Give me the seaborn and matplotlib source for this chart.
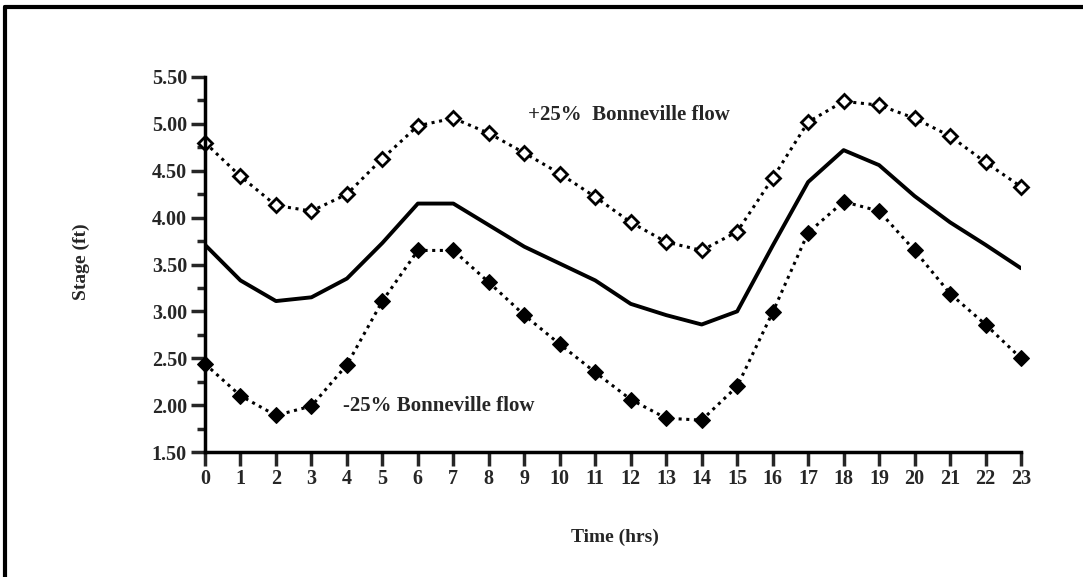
import numpy as np
import pandas as pd
import matplotlib
matplotlib.use("Agg")
import matplotlib.pyplot as plt
import seaborn as sns
from matplotlib.ticker import MultipleLocator, FormatStrFormatter
from matplotlib.lines import Line2D

# hourly stage values
hours = list(range(24))
stage_plus25 = [4.80, 4.44, 4.13, 4.07, 4.25, 4.63, 4.98, 5.06, 4.90, 4.69, 4.47, 4.22,
                3.95, 3.74, 3.65, 3.85, 4.42, 5.02, 5.24, 5.20, 5.06, 4.87, 4.59, 4.33]
stage_base = [3.71, 3.33, 3.11, 3.15, 3.35, 3.73, 4.15, 4.15, 3.92, 3.69, 3.51, 3.33,
              3.08, 2.96, 2.86, 3.00, 3.70, 4.38, 4.72, 4.56, 4.23, 3.95, 3.71, 3.46]
stage_minus25 = [2.44, 2.10, 1.89, 1.99, 2.43, 3.11, 3.65, 3.65, 3.31, 2.96, 2.65, 2.35,
                 2.06, 1.86, 1.84, 2.20, 2.99, 3.84, 4.17, 4.07, 3.65, 3.19, 2.86, 2.50]

df = pd.DataFrame({"hour": hours, "plus": stage_plus25, "base": stage_base,
                   "minus": stage_minus25})

sns.set_style("white")
plt.rcParams["font.family"] = ["Liberation Serif", "DejaVu Serif"]
plt.rcParams["font.weight"] = "bold"

W, H = 1083, 577
fig = plt.figure(figsize=(W / 100, H / 100), dpi=100)
ax = fig.add_axes([205 / W, 1 - 452 / H, (1021 - 205) / W, (452 - 77) / H])

sns.lineplot(data=df, x="hour", y="plus", ax=ax, color="black", linestyle=(0, (1, 1.5)),
             linewidth=2.2, marker="D", markersize=7.5, markerfacecolor="white",
             markeredgecolor="black", markeredgewidth=2, clip_on=False)
sns.lineplot(data=df, x="hour", y="base", ax=ax, color="black", linewidth=2.8)
sns.lineplot(data=df, x="hour", y="minus", ax=ax, color="black", linestyle=(0, (1, 1.5)),
             linewidth=2.2, marker="D", markersize=8, markerfacecolor="black",
             markeredgecolor="black", clip_on=False)

ax.set_xlim(0, 23)
ax.set_ylim(1.5, 5.5)
ax.xaxis.set_major_locator(MultipleLocator(1))
ax.yaxis.set_major_locator(MultipleLocator(0.5))
ax.yaxis.set_minor_locator(MultipleLocator(0.25))
ax.yaxis.set_major_formatter(FormatStrFormatter("%.2f"))

for side in ["top", "right"]:
    ax.spines[side].set_visible(False)
for side in ["left", "bottom"]:
    ax.spines[side].set_linewidth(2.5)
    ax.spines[side].set_color("black")

ax.tick_params(axis="x", which="major", direction="out", length=10, width=2.5,
               labelsize=14.5, pad=2, bottom=True)
ax.tick_params(axis="y", which="major", direction="out", length=10, width=2.5,
               labelsize=14.5, pad=3, left=True)
ax.tick_params(axis="y", which="minor", direction="out", length=6, width=2.5, left=True)
for lab in ax.get_xticklabels() + ax.get_yticklabels():
    lab.set_fontweight("bold")

ax.set_xlabel("Time (hrs)", fontsize=14, fontweight="bold", va="center")
ax.set_ylabel("Stage (ft)", fontsize=14, fontweight="bold", va="center")
ax.xaxis.set_label_coords((615 - 205) / 816, (452 - 537) / 375)
ax.yaxis.set_label_coords((81 - 205) / 816, (452 - 262) / 375)

ax.text(9.1, 5.10, "+25%  Bonneville flow", fontsize=15, fontweight="bold",
        ha="left", va="center")
ax.text(3.9, 1.99, "-25% Bonneville flow", fontsize=15, fontweight="bold",
        ha="left", va="center")

# outer frame (top and left edges visible)
fig.add_artist(Line2D([5 / W, 1.0], [1 - 7 / H, 1 - 7 / H], color="black",
                      linewidth=3, transform=fig.transFigure))
fig.add_artist(Line2D([5 / W, 5 / W], [0.0, 1 - 7 / H], color="black",
                      linewidth=3, transform=fig.transFigure))

fig.savefig("out.png", dpi=100)
